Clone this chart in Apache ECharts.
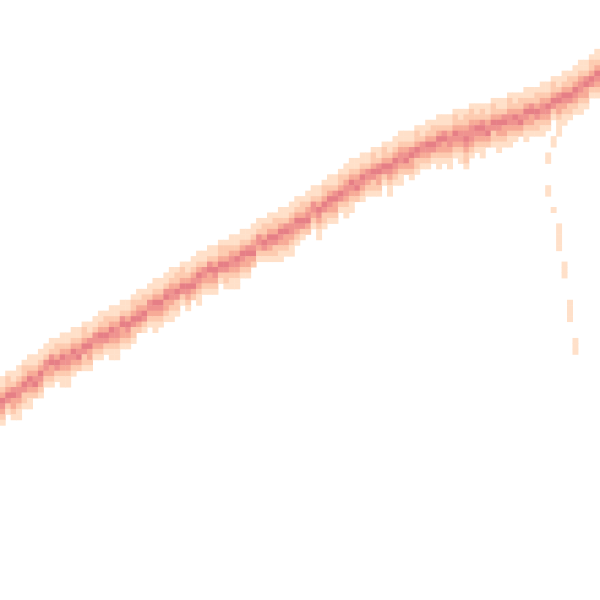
<!DOCTYPE html>
<html>
<head>
<meta charset="utf-8">
<script src="https://cdn.jsdelivr.net/npm/echarts@6/dist/echarts.min.js"></script>
<style>html,body{margin:0;padding:0;background:#fff;}#chart{width:600px;height:600px;}</style>
</head>
<body>
<div id="chart"></div>
<script>
// Grid of 110 x 110 cells (column index left->right, row index top->bottom)
const nCols = 110;
const nRows = 110;

// Centre row of the dense band, per column
const centerRow = [
  73,72,72,71,70,69,69,68,67,66,
  66,65,65,64,64,63,63,62,61,61,
  60,60,59,59,58,57,57,56,55,55,
  54,53,53,52,52,51,50,50,49,49,
  48,48,47,47,46,46,45,44,44,43,
  43,42,42,41,40,40,39,38,38,37,
  36,36,35,34,33,33,32,32,31,31,
  30,30,29,28,28,28,27,27,26,26,
  25,25,25,24,24,24,23,23,23,23,
  22,22,22,21,21,21,20,20,20,19,
  19,18,18,17,17,16,15,15,14,13
];

// Cell values down each column, starting 4 rows above the centre row
const bandValues = [
  "112354321","12235421","112453321","1123443211","122354221","1123543211","11234532","112354321","11244321","112453321",
  "12235421","1123543211","1123443211","112354321","11234532","122354221","112453321","11244321","112354321","12235421",
  "1123543211","1123443211","112453321","112354321","122354221","11234532","12235421","11244321","1123543211","112354321",
  "112453321","1123443211","122354221","12235421","112354321","11234532","1123543211","11244321","112453321","112354321",
  "12235421","122354221","1123443211","1123543211","112354321","112453321","11234532","11244321","12235421","112354321",
  "122354221","1123543211","112453321","1123443211","112354321","12235421","11234532","11244321","1123543211","122354221",
  "112354321","112453321","12235421","1123443211","1123543211","11234532","112354321","11244321","122354221","112453321",
  "12235421","1123543211","112354321","1123443211","11234532","112453321","122354221","11244321","112354321","12235421",
  "1123543211","112453321","1123443211","122354321","1123443211","12234543221","1223444321","112354321","1224543211","11234532",
  "122354221","1123543211","112453321","1223443211","112354321","12234532","1123543211","112453321","122354221","1123443211",
  "112354321","12235421","112453321","1123543211","122354221","112354321","1123443211","112453321","12235421","112354321"
];

// Sparse trail of faint cells falling below the band on the right: [column, row]
const trailCells = [
  [100,28],[100,29],[100,34],[100,35],
  [101,25],[101,26],[101,38],
  [102,23],[102,24],[102,41],[102,42],[102,43],[102,44],[102,45],
  [103,48],[103,49],[103,50],
  [104,55],[104,56],[104,57],[104,58],
  [105,62],[105,63],[105,64]
];
const trailValue = 1;

const colCats = Array.from({length: nCols}, (_, i) => i);
const rowCats = Array.from({length: nRows}, (_, i) => i);

const cells = {};
for (let c = 0; c < nCols; c++) {
  const top = centerRow[c] - 4;
  const s = bandValues[c];
  for (let k = 0; k < s.length; k++) {
    const r = top + k;
    if (r >= 0 && r < nRows) cells[c + '_' + r] = [c, r, Number(s[k])];
  }
}
trailCells.forEach(([c, r]) => {
  const key = c + '_' + r;
  if (!cells[key]) cells[key] = [c, r, trailValue];
});
const data = Object.values(cells);

const chart = echarts.init(document.getElementById('chart'), null, {renderer: 'canvas'});
chart.setOption({
  animation: false,
  backgroundColor: '#ffffff',
  grid: {left: 0, right: 0, top: 0, bottom: 0},
  xAxis: {type: 'category', data: colCats, show: false},
  yAxis: {type: 'category', data: rowCats, inverse: true, show: false},
  visualMap: {
    show: false,
    type: 'continuous',
    min: 1,
    max: 5,
    inRange: {color: ['#ffe0c9', '#fdcbb0', '#f7ab97', '#ef938f', '#e67f86']}
  },
  series: [{
    type: 'heatmap',
    data: data,
    itemStyle: {borderWidth: 0},
    emphasis: {disabled: true}
  }]
});
</script>
</body>
</html>
